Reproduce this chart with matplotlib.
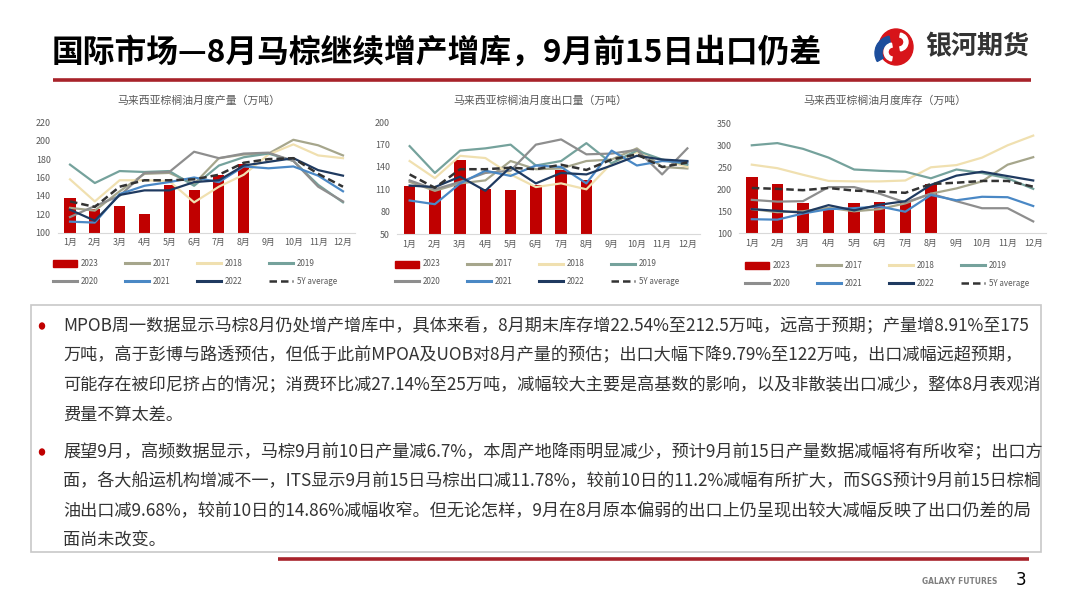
import matplotlib
matplotlib.use("Agg")
import matplotlib.pyplot as plt
from matplotlib.patches import Rectangle, Ellipse, Wedge
from matplotlib.lines import Line2D
import numpy as np

plt.rcParams['font.family'] = ['Noto Sans CJK SC', 'DejaVu Sans']

# ---------------- data ----------------
months = ['1月', '2月', '3月', '4月', '5月', '6月', '7月', '8月', '9月', '10月', '11月', '12月']
series_names = ['2023', '2017', '2018', '2019', '2020', '2021', '2022', '5Y average']

# production (万吨)
prod_2023 = [138, 126, 129, 120, 152, 146, 163, 175]
prod_2017 = [127, 124, 145, 164, 165, 153, 181, 185, 186, 201, 195, 184]
prod_2018 = [158, 134, 157, 157, 156, 133, 150, 163, 185, 196, 184, 181]
prod_2019 = [174, 154, 167, 166, 167, 151, 173, 182, 186, 178, 152, 133]
prod_2020 = [117, 129, 140, 165, 166, 188, 181, 186, 187, 178, 150, 134]
prod_2021 = [112, 111, 142, 151, 155, 160, 155, 172, 170, 172, 162, 145]
prod_2022 = [125, 113, 141, 146, 146, 155, 157, 173, 177, 181, 168, 162]
prod_avg = [134, 128, 150, 157, 157, 158, 163, 176, 180, 181, 164, 150]

# exports (万吨)
exp_2023 = [114, 110, 150, 110, 109, 116, 136, 122]
exp_2017 = [120, 108, 118, 122, 148, 137, 138, 148, 150, 165, 140, 138]
exp_2018 = [148, 125, 155, 152, 130, 113, 118, 110, 145, 160, 150, 140]
exp_2019 = [168, 132, 162, 165, 170, 142, 148, 172, 145, 162, 150, 143]
exp_2020 = [122, 110, 120, 132, 135, 170, 177, 157, 158, 163, 130, 165]
exp_2021 = [95, 90, 118, 135, 128, 142, 140, 118, 162, 142, 148, 146]
exp_2022 = [115, 113, 127, 108, 140, 118, 132, 130, 142, 155, 150, 148]
exp_avg = [130, 112, 137, 137, 139, 137, 143, 136, 150, 157, 140, 146]

# stocks (万吨)
stk_2023 = [227, 212, 168, 152, 168, 172, 170, 212.5]
stk_2017 = [155, 148, 150, 158, 150, 155, 168, 190, 202, 218, 256, 273]
stk_2018 = [256, 248, 233, 219, 218, 218, 220, 250, 255, 272, 300, 322]
stk_2019 = [300, 305, 292, 272, 245, 242, 240, 225, 245, 237, 225, 201]
stk_2020 = [176, 172, 173, 205, 205, 190, 170, 190, 173, 157, 157, 127]
stk_2021 = [132, 131, 145, 155, 157, 161, 149, 187, 175, 183, 182, 162]
stk_2022 = [155, 151, 147, 164, 152, 165, 173, 210, 231, 240, 230, 220]
stk_avg = [203, 201, 198, 203, 197, 195, 192, 212, 215, 219, 219, 206]

prod_ticks = [100, 120, 140, 160, 180, 200, 220]
exp_ticks = [50, 80, 110, 140, 170, 200]
stk_ticks = [100, 150, 200, 250, 300, 350]

title_text = '国际市场—8月马棕继续增产增库，9月前15日出口仍差'
chart_titles = ['马来西亚棕榈油月度产量（万吨）', '马来西亚棕榈油月度出口量（万吨）', '马来西亚棕榈油月度库存（万吨）']

body_lines_1 = [
    'MPOB周一数据显示马棕8月仍处增产增库中，具体来看，8月期末库存增22.54%至212.5万吨，远高于预期；产量增8.91%至175',
    '万吨，高于彭博与路透预估，但低于此前MPOA及UOB对8月产量的预估；出口大幅下降9.79%至122万吨，出口减幅远超预期，',
    '可能存在被印尼挤占的情况；消费环比减27.14%至25万吨，减幅较大主要是高基数的影响，以及非散装出口减少，整体8月表观消',
    '费量不算太差。',
]
body_lines_2 = [
    '展望9月，高频数据显示，马棕9月前10日产量减6.7%，本周产地降雨明显减少，预计9月前15日产量数据减幅将有所收窄；出口方',
    '面，各大船运机构增减不一，ITS显示9月前15日马棕出口减11.78%，较前10日的11.2%减幅有所扩大，而SGS预计9月前15日棕榈',
    '油出口减9.68%，较前10日的14.86%减幅收窄。但无论怎样，9月在8月原本偏弱的出口上仍呈现出较大减幅反映了出口仍差的局',
    '面尚未改变。',
]

colors = {
    '2023': '#C00000',
    '2017': '#A6A68C',
    '2018': '#F0E0B0',
    '2019': '#75A29C',
    '2020': '#8E8E8E',
    '2021': '#4A88C5',
    '2022': '#1F3A60',
    '5Y average': '#333333',
}

W, H = 1080, 608
fig = plt.figure(figsize=(W / 100, H / 100), dpi=100)
fig.patch.set_facecolor('white')

# overlay axes in pixel coordinates
ov = fig.add_axes([0, 0, 1, 1])
ov.set_xlim(0, W)
ov.set_ylim(H, 0)
ov.axis('off')

renderer = fig.canvas.get_renderer()


def fit_text(x, y, s, target_w, size0, **kw):
    t = ov.text(x, y, s, fontsize=size0, **kw)
    w = t.get_window_extent(renderer=renderer).width
    t.set_fontsize(size0 * target_w / w)
    return t


# ---- header ----
fit_text(52, 53, title_text, 768, 22, fontweight='bold', color='black', va='center', ha='left')
ov.add_line(Line2D([53, 1031], [80, 80], color='#A8232A', lw=2.6, solid_capstyle='butt'))

# logo
ov.add_patch(Ellipse((896, 47), 34, 36, color='#D7141A'))
ov.add_patch(Wedge((892, 53), 17, 150, 260, width=7, color='#1C4E9C'))
ov.add_patch(Wedge((899, 42), 9, 280, 80, width=4, color='white'))
ov.add_patch(Wedge((893, 52), 9, 100, 260, width=4, color='white'))
fit_text(925, 47, '银河期货', 104, 19, fontweight='bold', color='#333333', va='center', ha='left')


# ---- charts ----
def draw_chart(px_left, px_right, px_top, px_bottom, ylim, yticks, bars, lines, avg, title, leg_x0, leg_rows):
    ax = fig.add_axes([px_left / W, 1 - px_bottom / H, (px_right - px_left) / W, (px_bottom - px_top) / H])
    x = np.arange(len(months))
    ax.bar(x[:len(bars)], bars, width=0.45, color=colors['2023'], zorder=1)
    for name, vals in lines:
        ax.plot(x, vals, color=colors[name], lw=1.6, zorder=2)
    ax.plot(x, avg, color=colors['5Y average'], lw=1.8, ls=(0, (3, 1.6)), zorder=3)
    ax.set_xlim(-0.5, len(months) - 0.5)
    ax.set_ylim(*ylim)
    ax.set_yticks(yticks)
    ax.set_xticks(x)
    ax.set_xticklabels(months)
    ax.tick_params(axis='y', length=0, labelsize=6.4, colors='#595959', pad=5)
    ax.tick_params(axis='x', length=0, labelsize=6.4, colors='#595959', pad=4)
    for s in ['top', 'right', 'left']:
        ax.spines[s].set_visible(False)
    ax.spines['bottom'].set_color('#D9D9D9')
    ax.spines['bottom'].set_linewidth(0.8)
    ax.patch.set_alpha(0)
    # chart title
    ov.text((px_left + px_right) / 2 - 8, 101, title, fontsize=7.8, color='#595959', ha='center', va='center')
    # legend (manual, Excel-style)
    spacing = 72
    for i, name in enumerate(series_names):
        row, col = divmod(i, 4)
        hx = leg_x0 + col * spacing
        hy = leg_rows[row]
        if name == '2023':
            ov.add_patch(Rectangle((hx, hy - 3.5), 24, 7, color=colors[name]))
        elif name == '5Y average':
            ov.add_line(Line2D([hx, hx + 24], [hy, hy], color=colors[name], lw=1.8, ls=(0, (3, 1.6))))
        else:
            ov.add_line(Line2D([hx, hx + 24], [hy, hy], color=colors[name], lw=2.2))
        ov.text(hx + 28, hy, name, fontsize=5.8, color='#595959', va='center', ha='left')
    return ax


draw_chart(57.6, 355.4, 122.3, 232.7, (100, 220), prod_ticks, prod_2023,
           [('2017', prod_2017), ('2018', prod_2018), ('2019', prod_2019), ('2020', prod_2020),
            ('2021', prod_2021), ('2022', prod_2022)], prod_avg, chart_titles[0], 53, (263, 281))
draw_chart(397, 700, 122.3, 234, (50, 200), exp_ticks, exp_2023,
           [('2017', exp_2017), ('2018', exp_2018), ('2019', exp_2019), ('2020', exp_2020),
            ('2021', exp_2021), ('2022', exp_2022)], exp_avg, chart_titles[1], 395, (264, 281))
draw_chart(739, 1046, 123.3, 233.3, (100, 350), stk_ticks, stk_2023,
           [('2017', stk_2017), ('2018', stk_2018), ('2019', stk_2019), ('2020', stk_2020),
            ('2021', stk_2021), ('2022', stk_2022)], stk_avg, chart_titles[2], 745, (265, 283))

# ---- text box ----
ov.add_patch(Rectangle((31, 305), 1010, 247, fill=False, edgecolor='#C8C8C8', lw=1.2))
t0 = ov.text(63, 326, body_lines_1[0], fontsize=12, color='#333333', va='center', ha='left')
wfit = t0.get_window_extent(renderer=renderer).width
fs = 12 * 967 / wfit
t0.set_fontsize(fs)
ys1 = [326, 355.5, 385, 414.5]
ys2 = [452, 481.5, 511, 540.5]
for i, (s, y) in enumerate(zip(body_lines_1, ys1)):
    if i > 0:
        ov.text(63, y, s, fontsize=fs, color='#333333', va='center', ha='left')
for s, y in zip(body_lines_2, ys2):
    ov.text(63, y, s, fontsize=fs, color='#333333', va='center', ha='left')
for y in (ys1[0], ys2[0]):
    ov.add_patch(Ellipse((42, y), 5, 6, color='#C00000'))

# ---- footer ----
ov.add_line(Line2D([278, 1029], [559, 559], color='#A8232A', lw=2.6, solid_capstyle='butt'))
fit_text(922, 582, 'GALAXY FUTURES', 76, 6, fontweight='bold', color='#7F7F7F', va='center', ha='left',
         family=['DejaVu Sans'])
ov.text(1016, 580, '3', fontsize=12, color='black', va='center', ha='left', family=['DejaVu Sans'])

fig.savefig('out.png', dpi=100, facecolor='white')
